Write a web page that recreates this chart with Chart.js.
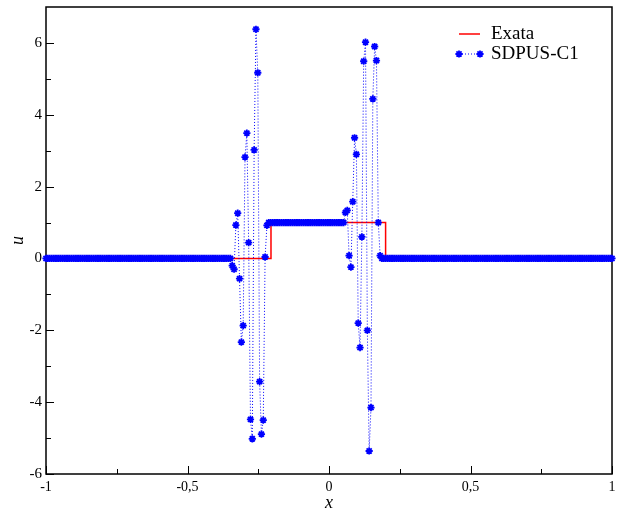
<!DOCTYPE html>
<html><head><meta charset="utf-8">
<script src="https://cdn.jsdelivr.net/npm/chart.js@4.4.1/dist/chart.umd.min.js"></script>
<style>html,body{margin:0;padding:0;background:#fff;}#wrap{width:621px;height:512px;}</style>
</head><body><div id="wrap"><canvas id="c" width="621" height="512"></canvas></div>
<script>
// ---- data ----
const seriesNames = ['Exata', 'SDPUS-C1'];
const exactX = [-1, -0.205, -0.205, 0.2, 0.2, 1];
const exactU = [0, 0, 1, 1, 0, 0];
// numerical solution on a uniform mesh over [-1, 1]
const numU = [
0,0,0,0,0,0,0,0,0,0,0,0,0,0,0,0,0,0,0,0,
0,0,0,0,0,0,0,0,0,0,0,0,0,0,0,0,0,0,0,0,
0,0,0,0,0,0,0,0,0,0,0,0,0,0,0,0,0,0,0,0,
0,0,0,0,0,0,0,0,0,0,0,0,0,0,0,0,0,0,0,0,
0,0,0,0,0,0,0,0,0,0,0,0,0,0,0,0,0,0,0,0,
0,0,
-0.2,-0.3,
0.93,1.26,-0.56,-2.33,-1.87,2.82,3.49,0.44,-4.48,-5.02,3.02,6.38,5.17,-3.43,-4.89,-4.50,0.04,0.92,
1,1,1,1,1,1,1,1,1,1,1,1,1,1,1,1,1,1,1,1,
1,1,1,1,1,1,1,1,1,1,1,1,1,1,1,1,1,1,1,1,
1,1,
1.28,1.34,
0.08,-0.24,1.58,3.36,2.90,-1.80,-2.48,0.60,5.49,6.02,-2.00,-5.36,-4.15,4.44,5.90,5.51,1.00,0.08,
0,0,0,0,0,0,0,0,0,0,0,0,0,0,0,0,0,0,0,0,
0,0,0,0,0,0,0,0,0,0,0,0,0,0,0,0,0,0,0,0,
0,0,0,0,0,0,0,0,0,0,0,0,0,0,0,0,0,0,0,0,
0,0,0,0,0,0,0,0,0,0,0,0,0,0,0,0,0,0,0,0,
0,0,0,0,0,0,0,0,0,0,0,0,0,0,0,0,0,0,0,0,
0,0,0,0,0,0,0,0,0,0,0,0,0,0,0,0,0,0,0,0,
0,0,0,0,0,0,0
];
const meshStart = -1, meshEnd = 1;
const xMajorTicks = [-1, -0.5, 0, 0.5, 1];
const xMinorTicks = [-0.75, -0.25, 0.25, 0.75];
const yMajorTicks = [-6, -4, -2, 0, 2, 4, 6];
const yMinorTicks = [-5, -3, -1, 1, 3, 5];

// ---- build ----
const FONT = 'Liberation Serif';
const numX = numU.map((_, i) => meshStart + (meshEnd - meshStart) * i / (numU.length - 1));
const exactData = exactX.map((x, i) => ({x: x, y: exactU[i]}));
const numData = numX.map((x, i) => ({x: x, y: numU[i]}));

function drawStar(ctx, x, y, r) {
  ctx.beginPath();
  for (let k = 0; k < 4; k++) {
    const a = k * Math.PI / 4;
    ctx.moveTo(x - r * Math.cos(a), y - r * Math.sin(a));
    ctx.lineTo(x + r * Math.cos(a), y + r * Math.sin(a));
  }
  ctx.stroke();
}

const framePlugin = {
  id: 'frame',
  beforeDatasetsDraw(chart) {
    const {ctx, chartArea: a, scales: {x, y}} = chart;
    ctx.save();
    ctx.strokeStyle = '#000';
    ctx.lineWidth = 1;
    ctx.beginPath();
    const tick = (vals, len, horiz) => vals.forEach(v => {
      if (horiz) {
        const p = Math.round(x.getPixelForValue(v)) + 0.5;
        ctx.moveTo(p, a.bottom); ctx.lineTo(p, a.bottom - len);
      } else {
        const p = Math.round(y.getPixelForValue(v)) + 0.5;
        ctx.moveTo(a.left, p); ctx.lineTo(a.left + len, p);
      }
    });
    tick(xMajorTicks, 8, true); tick(xMinorTicks, 5, true);
    tick(yMajorTicks, 8, false); tick(yMinorTicks, 5, false);
    ctx.stroke();
    ctx.lineWidth = 1.5;
    ctx.strokeRect(a.left, a.top, a.right - a.left, a.bottom - a.top);
    ctx.restore();
  }
};

const legendPlugin = {
  id: 'innerLegend',
  afterDraw(chart) {
    const ctx = chart.ctx;
    const ds = chart.data.datasets;
    ctx.save();
    const x0 = 459, x1 = 480, tx = 491, rows = [34, 54];
    ds.forEach((d, i) => {
      const yy = rows[i];
      ctx.strokeStyle = d.borderColor;
      ctx.lineWidth = d.borderWidth;
      ctx.setLineDash(d.borderDash || []);
      ctx.beginPath(); ctx.moveTo(x0, yy); ctx.lineTo(x1, yy); ctx.stroke();
      ctx.setLineDash([]);
      if (d.pointRadius > 0) {
        ctx.lineWidth = d.pointBorderWidth;
        drawStar(ctx, x0, yy, d.pointRadius);
        drawStar(ctx, x1, yy, d.pointRadius);
      }
      ctx.fillStyle = '#000';
      ctx.font = '19px "' + FONT + '"';
      ctx.textBaseline = 'middle';
      ctx.textAlign = 'left';
      ctx.fillText(d.label, tx, yy);
    });
    ctx.restore();
  }
};

new Chart(document.getElementById('c'), {
  type: 'line',
  data: {
    datasets: [
      {
        label: seriesNames[0], data: exactData, order: 1,
        borderColor: '#ff0000', borderWidth: 1.5, pointRadius: 0, tension: 0, fill: false
      },
      {
        label: seriesNames[1], data: numData, order: 0, clip: false,
        borderColor: '#0000ff', borderWidth: 1, borderDash: [1, 2], tension: 0, fill: false,
        pointStyle: 'star', pointRadius: 3.6, pointBorderWidth: 1.8,
        pointBorderColor: '#0000ff', pointBackgroundColor: '#0000ff'
      }
    ]
  },
  options: {
    responsive: false, devicePixelRatio: 1, animation: false,
    layout: {padding: {top: 7, right: 9, left: 0, bottom: 0}},
    plugins: {legend: {display: false}, tooltip: {enabled: false}},
    scales: {
      x: {
        type: 'linear', min: -1, max: 1,
        grid: {display: false, drawTicks: false, tickLength: 0}, border: {display: false},
        afterBuildTicks: s => { s.ticks = xMajorTicks.map(v => ({value: v})); },
        afterFit: s => { s.height = 38; s.paddingLeft = 0; s.paddingRight = 0; },
        ticks: {
          font: {family: FONT, size: 14}, color: '#000', padding: 5,
          autoSkip: false, maxRotation: 0,
          callback: v => String(v).replace('.', ',')
        },
        title: {display: true, text: 'x', color: '#000',
          font: {family: FONT, size: 18, style: 'italic', lineHeight: 1}, padding: {top: 0, bottom: 0}}
      },
      y: {
        type: 'linear', min: -6, max: 7,
        grid: {display: false, drawTicks: false, tickLength: 0}, border: {display: false},
        afterBuildTicks: s => { s.ticks = yMajorTicks.map(v => ({value: v})); },
        afterFit: s => { s.width = 46; s.paddingTop = 0; s.paddingBottom = 0; },
        ticks: {
          font: {family: FONT, size: 15}, color: '#000', padding: 4,
          callback: v => String(v)
        },
        title: {display: true, text: 'u', color: '#000',
          font: {family: FONT, size: 18, style: 'italic', lineHeight: 1}, padding: {top: 9, bottom: 0}}
      }
    }
  },
  plugins: [framePlugin, legendPlugin]
});
</script>
</body></html>
